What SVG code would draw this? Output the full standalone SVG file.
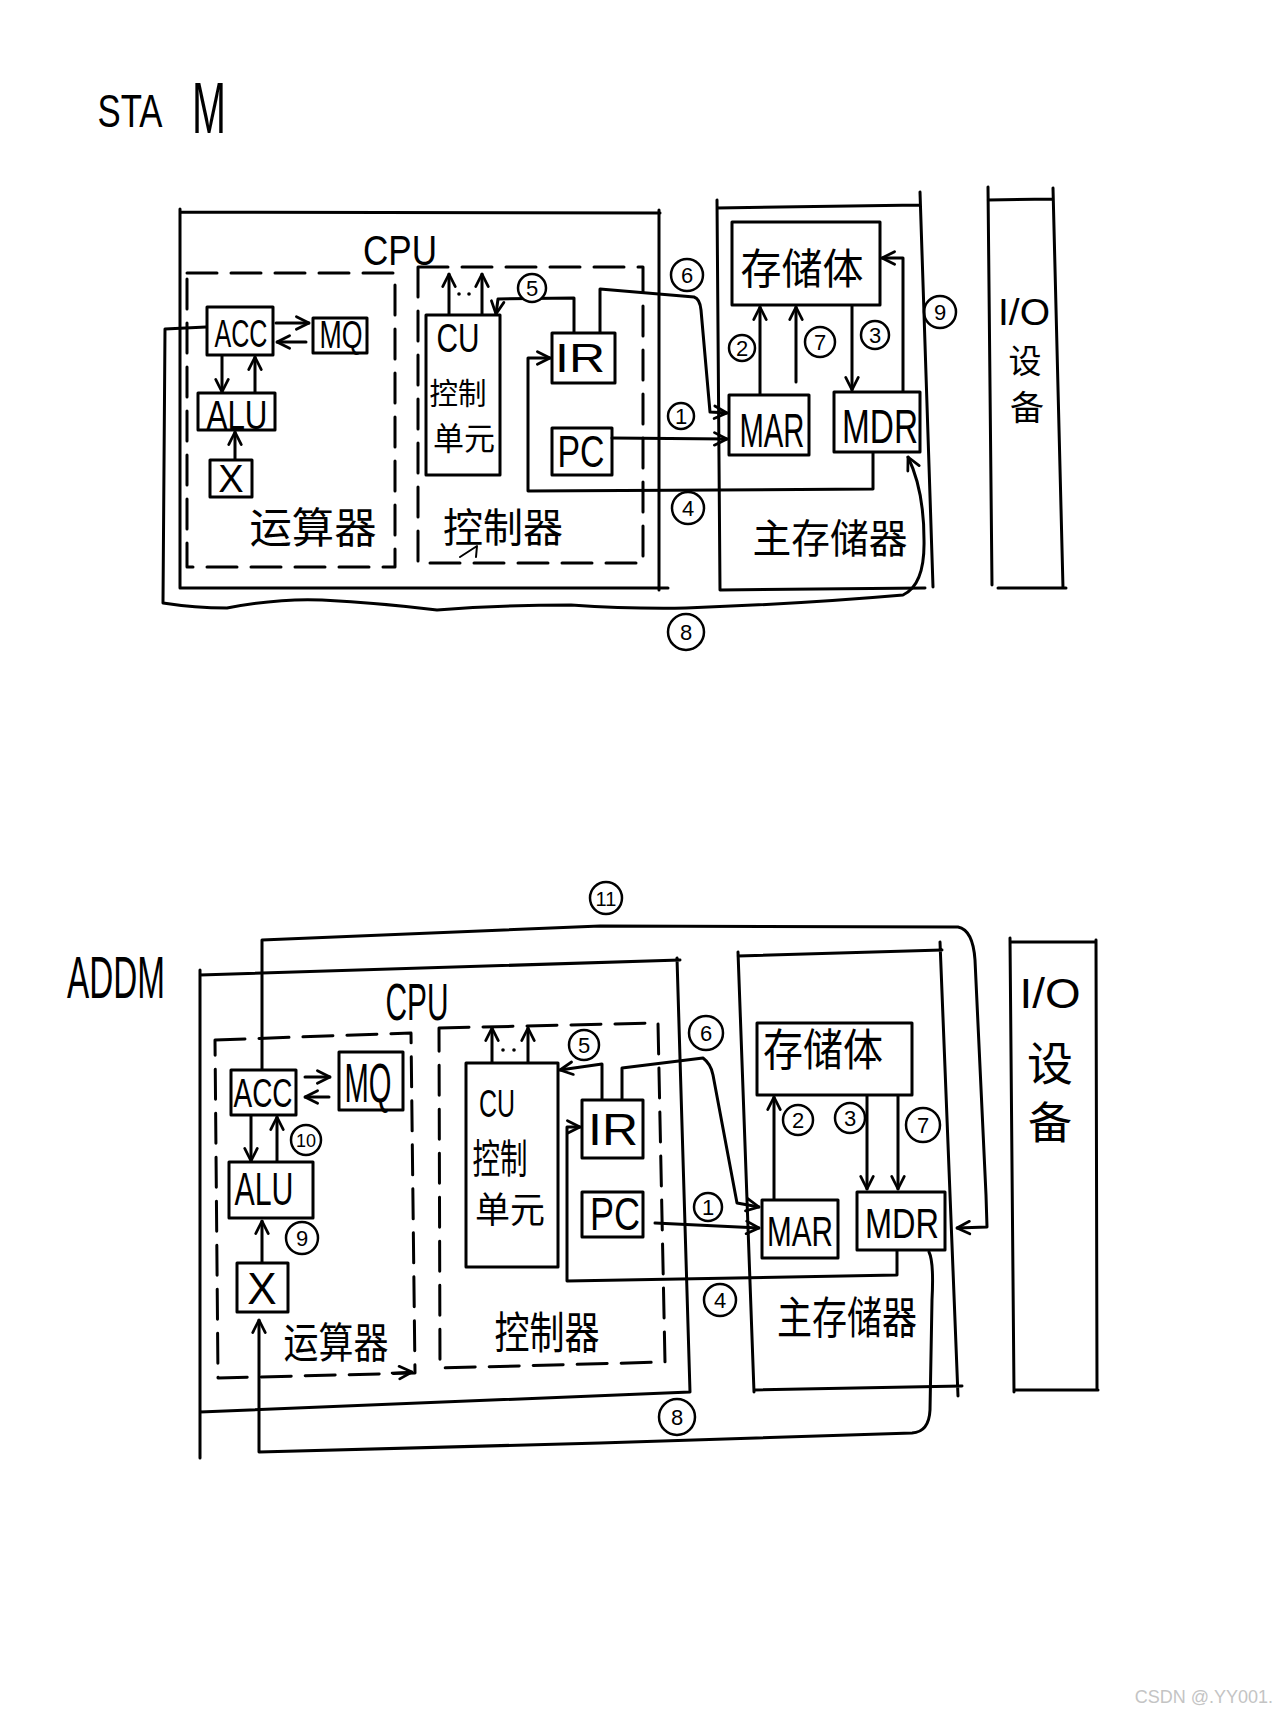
<svg xmlns="http://www.w3.org/2000/svg" width="1280" height="1719" viewBox="0 0 1280 1719">
<style>
.ln{fill:none;stroke:#000;stroke-width:3;stroke-linecap:round;stroke-linejoin:round}
.dash{stroke-dasharray:30 14}
.ar{marker-end:url(#ah)}
.t{font-family:"Liberation Sans",Arial,sans-serif;fill:#000;text-anchor:middle}
.cn{font-family:"Noto Sans CJK SC","Noto Sans CJK JP",sans-serif;fill:#000;text-anchor:middle}
.num circle{fill:#fff;stroke:#000;stroke-width:2.5}
.num text{font-family:"Liberation Sans",Arial,sans-serif;font-size:22px;fill:#000;text-anchor:middle}
.wm{font-family:"Liberation Sans",Arial,sans-serif;font-size:18px;fill:#c4c4c4;text-anchor:end}
</style>
<defs>
<marker id="ah" viewBox="0 0 14 14" refX="13" refY="7" markerWidth="16" markerHeight="16" markerUnits="userSpaceOnUse" orient="auto">
<path d="M2,1.5 L13,7 L2,12.5" fill="none" stroke="#000" stroke-width="2.4" stroke-linecap="round" stroke-linejoin="round"/>
</marker>
</defs>
<rect width="1280" height="1719" fill="#fff"/>

<!-- ================= TOP: STA M ================= -->
<g id="title-sta">
<text class="t" x="130" y="127" font-size="46" textLength="65" lengthAdjust="spacingAndGlyphs">STA</text>
<text class="t" x="209" y="133" font-size="72" textLength="34" lengthAdjust="spacingAndGlyphs">M</text>
</g>

<g id="top-connectors">
<path class="ln ar" d="M276,323 L309,323"/>
<path class="ln ar" d="M306,342 L277,342"/>
<path class="ln ar" d="M222,356 V392"/>
<path class="ln ar" d="M255,392 V357"/>
<path class="ln ar" d="M235,459 V432"/>
<path class="ln ar" d="M449,314 V274"/>
<path class="ln ar" d="M482,314 V274"/>
<circle cx="459" cy="294" r="1.8" fill="#000"/>
<circle cx="469" cy="294" r="1.8" fill="#000"/>
<path class="ln ar" d="M574,332 V298 L498,299 L496,314"/>
<path class="ln ar" d="M600,332 V289 L694,297 Q700,299 701,310 L710,412 L727,413"/>
<path class="ln ar" d="M612,438 L727,439"/>
<path class="ln ar" d="M873,453 V489 L528,491 V358 L550,358"/>
<path class="ln ar" d="M760,394 V307"/>
<path class="ln ar" d="M796,382 V307"/>
<path class="ln ar" d="M852,306 V390"/>
<path class="ln ar" d="M903,391 V258 L882,258"/>
<path class="ln ar" d="M206,327 L165,329 L163,603 Q195,608 227,608 Q280,598 322,600 Q380,603 437,610 Q500,605 571,605 Q630,609 686,608 Q800,604 903,595 Q925,585 924,540 Q924,490 908,457"/>
<g class="num"><circle cx="532" cy="288" r="14"/><text x="532" y="296">5</text></g>
<g class="num"><circle cx="687" cy="275" r="16"/><text x="687" y="283">6</text></g>
<g class="num"><circle cx="681" cy="416" r="13"/><text x="681" y="424">1</text></g>
<g class="num"><circle cx="688" cy="508" r="16"/><text x="688" y="516">4</text></g>
<g class="num"><circle cx="742" cy="348" r="13"/><text x="742" y="356">2</text></g>
<g class="num"><circle cx="820" cy="342" r="15"/><text x="820" y="350">7</text></g>
<g class="num"><circle cx="875" cy="335" r="14"/><text x="875" y="343">3</text></g>
<g class="num"><circle cx="940" cy="312" r="16"/><text x="940" y="320">9</text></g>
<g class="num"><circle cx="686" cy="632" r="18"/><text x="686" y="640">8</text></g>
</g>

<g id="top-cpu">
<path class="ln" d="M180,209 V588 H668 M180,212 L660,213 M659,210 V590"/>
<text class="t" x="400" y="265" font-size="42" textLength="74" lengthAdjust="spacingAndGlyphs">CPU</text>
</g>
<g id="top-arith">
<rect class="ln dash" x="187" y="273" width="208" height="294"/>
<text class="cn" x="313" y="543" font-size="42" textLength="127" lengthAdjust="spacingAndGlyphs">运算器</text>
</g>
<g id="top-acc"><rect class="ln" x="207" y="307" width="66" height="48"/><text class="t" x="241" y="347" font-size="38" textLength="53" lengthAdjust="spacingAndGlyphs">ACC</text></g>
<g id="top-mq"><rect class="ln" x="313" y="318" width="54" height="35"/><text class="t" x="341" y="348" font-size="38" textLength="43" lengthAdjust="spacingAndGlyphs">MQ</text></g>
<g id="top-alu"><rect class="ln" x="198" y="393" width="77" height="37"/><text class="t" x="237" y="429" font-size="40" textLength="61" lengthAdjust="spacingAndGlyphs">ALU</text></g>
<g id="top-x"><rect class="ln" x="210" y="460" width="42" height="37"/><text class="t" x="231" y="492" font-size="38">X</text></g>
<g id="top-ctrl">
<rect class="ln dash" x="418" y="267" width="225" height="296"/>
<text class="cn" x="503" y="542" font-size="40" textLength="120" lengthAdjust="spacingAndGlyphs">控制器</text>
<path class="ln" d="M460,557 L477,546 L476,557" style="stroke-width:2"/>
</g>
<g id="top-cu">
<rect class="ln" x="426" y="315" width="74" height="160"/>
<text class="t" x="458" y="352" font-size="40" textLength="43" lengthAdjust="spacingAndGlyphs">CU</text>
<text class="cn" x="458" y="404" font-size="30" textLength="57" lengthAdjust="spacingAndGlyphs">控制</text>
<text class="cn" x="464" y="450" font-size="32" textLength="62" lengthAdjust="spacingAndGlyphs">单元</text>
</g>
<g id="top-ir"><rect class="ln" x="552" y="333" width="63" height="50"/><text class="t" x="580" y="372" font-size="40" textLength="50" lengthAdjust="spacingAndGlyphs">IR</text></g>
<g id="top-pc"><rect class="ln" x="552" y="428" width="60" height="47"/><text class="t" x="581" y="467" font-size="44" textLength="47" lengthAdjust="spacingAndGlyphs">PC</text></g>
<g id="top-mem">
<path class="ln" d="M717,200 L720,590 M717,208 L920,205 M920,192 L933,587 M720,590 L925,588"/>
<text class="cn" x="830" y="553" font-size="40" textLength="155" lengthAdjust="spacingAndGlyphs">主存储器</text>
</g>
<g id="top-storage"><rect class="ln" x="732" y="222" width="148" height="83"/><text class="cn" x="802" y="284" font-size="42" textLength="123" lengthAdjust="spacingAndGlyphs">存储体</text></g>
<g id="top-mar"><rect class="ln" x="729" y="395" width="80" height="60"/><text class="t" x="772" y="447" font-size="48" textLength="65" lengthAdjust="spacingAndGlyphs">MAR</text></g>
<g id="top-mdr"><rect class="ln" x="834" y="392" width="86" height="60"/><text class="t" x="880" y="443" font-size="48" textLength="76" lengthAdjust="spacingAndGlyphs">MDR</text></g>
<g id="top-io">
<path class="ln" d="M988,187 L992,585 M988,200 L1053,199 M1053,188 L1063,588 M998,588 L1066,588"/>
<text class="t" x="1024" y="325" font-size="36" textLength="52" lengthAdjust="spacingAndGlyphs">I/O</text>
<text class="cn" x="1025" y="373" font-size="33">设</text>
<text class="cn" x="1027" y="420" font-size="34">备</text>
</g>

<!-- ================= BOTTOM: ADD M ================= -->
<g id="title-addm">
<text class="t" x="116" y="998" font-size="60" textLength="98" lengthAdjust="spacingAndGlyphs">ADDM</text>
</g>

<g id="bottom-connectors">
<path class="ln ar" d="M262,1069 V940 L600,926 L958,927 Q973,930 975,960 L986,1195 L987,1227 L957,1228"/>
<path class="ln ar" d="M305,1077 L330,1077"/>
<path class="ln ar" d="M329,1097 L305,1097"/>
<path class="ln ar" d="M251,1116 V1161"/>
<path class="ln ar" d="M277,1161 V1117"/>
<path class="ln ar" d="M262,1262 V1221"/>
<path class="ln ar" d="M929,1252 Q934,1262 932,1300 L930,1410 Q929,1432 912,1433 L600,1443 L259,1452 V1320"/>
<path class="ln ar" d="M492,1062 V1028"/>
<path class="ln ar" d="M528,1062 V1028"/>
<circle cx="503" cy="1050" r="1.8" fill="#000"/>
<circle cx="514" cy="1050" r="1.8" fill="#000"/>
<path class="ln ar" d="M602,1099 V1064 L560,1070"/>
<path class="ln ar" d="M622,1099 V1068 L703,1058 Q711,1064 713,1075 L737,1203 L759,1207"/>
<path class="ln ar" d="M655,1223 L759,1228"/>
<path class="ln ar" d="M897,1251 V1275 L567,1281 V1127 L580,1127"/>
<path class="ln ar" d="M774,1199 V1097"/>
<path class="ln ar" d="M867,1096 V1189"/>
<path class="ln ar" d="M898,1096 V1189"/>
<g class="num"><circle cx="606" cy="898" r="16"/><text x="606" y="906" style="font-size:20px">11</text></g>
<g class="num"><circle cx="306" cy="1140" r="15"/><text x="306" y="1147" style="font-size:18px">10</text></g>
<g class="num"><circle cx="302" cy="1238" r="16"/><text x="302" y="1246">9</text></g>
<g class="num"><circle cx="677" cy="1417" r="18"/><text x="677" y="1425">8</text></g>
<g class="num"><circle cx="584" cy="1045" r="15"/><text x="584" y="1053">5</text></g>
<g class="num"><circle cx="706" cy="1033" r="17"/><text x="706" y="1041">6</text></g>
<g class="num"><circle cx="708" cy="1207" r="14"/><text x="708" y="1215">1</text></g>
<g class="num"><circle cx="720" cy="1300" r="16"/><text x="720" y="1308">4</text></g>
<g class="num"><circle cx="798" cy="1120" r="15"/><text x="798" y="1128">2</text></g>
<g class="num"><circle cx="850" cy="1118" r="15"/><text x="850" y="1126">3</text></g>
<g class="num"><circle cx="923" cy="1125" r="17"/><text x="923" y="1133">7</text></g>
</g>

<g id="bottom-cpu">
<path class="ln" d="M200,970 V1458 M200,975 L680,960 M677,958 L690,1392 M200,1412 L690,1392"/>
<text class="t" x="417" y="1020" font-size="52" textLength="63" lengthAdjust="spacingAndGlyphs">CPU</text>
</g>
<g id="bottom-arith">
<path class="ln dash" d="M215,1040 L411,1033 L415,1373 L218,1378 Z"/>
<path class="ln ar" d="M392,1373 L412,1372" style="stroke-width:2.5"/>
<text class="cn" x="336" y="1358" font-size="42" textLength="105" lengthAdjust="spacingAndGlyphs">运算器</text>
</g>
<g id="bottom-acc"><rect class="ln" x="231" y="1070" width="65" height="45"/><text class="t" x="263" y="1107" font-size="40" textLength="59" lengthAdjust="spacingAndGlyphs">ACC</text></g>
<g id="bottom-mq"><rect class="ln" x="339" y="1052" width="64" height="58"/><text class="t" x="368" y="1102" font-size="56" textLength="47" lengthAdjust="spacingAndGlyphs">MQ</text></g>
<g id="bottom-alu"><rect class="ln" x="229" y="1162" width="84" height="56"/><text class="t" x="264" y="1205" font-size="46" textLength="59" lengthAdjust="spacingAndGlyphs">ALU</text></g>
<g id="bottom-x"><rect class="ln" x="237" y="1263" width="51" height="49"/><text class="t" x="262" y="1304" font-size="44">X</text></g>
<g id="bottom-ctrl">
<path class="ln dash" d="M439,1028 L658,1023 L665,1362 L440,1368 Z"/>
<text class="cn" x="547" y="1349" font-size="44" textLength="105" lengthAdjust="spacingAndGlyphs">控制器</text>
</g>
<g id="bottom-cu">
<rect class="ln" x="466" y="1063" width="92" height="204"/>
<text class="t" x="497" y="1117" font-size="38" textLength="36" lengthAdjust="spacingAndGlyphs">CU</text>
<text class="cn" x="500" y="1173" font-size="40" textLength="55" lengthAdjust="spacingAndGlyphs">控制</text>
<text class="cn" x="510" y="1223" font-size="36" textLength="70" lengthAdjust="spacingAndGlyphs">单元</text>
</g>
<g id="bottom-ir"><rect class="ln" x="582" y="1100" width="61" height="58"/><text class="t" x="613" y="1145" font-size="44" textLength="50" lengthAdjust="spacingAndGlyphs">IR</text></g>
<g id="bottom-pc"><rect class="ln" x="582" y="1192" width="61" height="45"/><text class="t" x="615" y="1230" font-size="46" textLength="50" lengthAdjust="spacingAndGlyphs">PC</text></g>
<g id="bottom-mem">
<path class="ln" d="M738,952 L754,1392 M738,956 L942,950 M940,942 L958,1396 M754,1390 L962,1386"/>
<text class="cn" x="847" y="1334" font-size="44" textLength="140" lengthAdjust="spacingAndGlyphs">主存储器</text>
</g>
<g id="bottom-storage"><rect class="ln" x="757" y="1023" width="155" height="72"/><text class="cn" x="823" y="1066" font-size="44" textLength="120" lengthAdjust="spacingAndGlyphs">存储体</text></g>
<g id="bottom-mar"><rect class="ln" x="762" y="1200" width="76" height="58"/><text class="t" x="800" y="1246" font-size="43" textLength="66" lengthAdjust="spacingAndGlyphs">MAR</text></g>
<g id="bottom-mdr"><rect class="ln" x="857" y="1192" width="88" height="58"/><text class="t" x="902" y="1238" font-size="43" textLength="74" lengthAdjust="spacingAndGlyphs">MDR</text></g>
<g id="bottom-io">
<path class="ln" d="M1010,938 L1014,1392 M1010,942 L1096,942 M1096,940 L1097,1390 M1014,1390 L1098,1390"/>
<text class="t" x="1050" y="1008" font-size="42" textLength="61" lengthAdjust="spacingAndGlyphs">I/O</text>
<text class="cn" x="1050" y="1080" font-size="46">设</text>
<text class="cn" x="1050" y="1139" font-size="44">备</text>
</g>

<text class="wm" x="1273" y="1703">CSDN @.YY001.</text>
</svg>
